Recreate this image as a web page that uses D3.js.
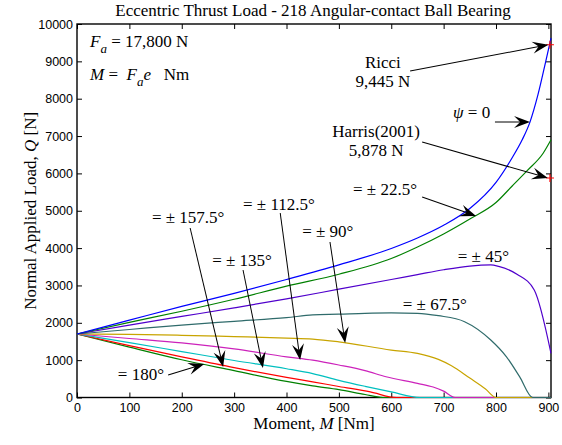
<!DOCTYPE html>
<html>
<head>
<meta charset="utf-8">
<script src="https://cdn.jsdelivr.net/npm/d3@7"></script>
<style>
  body { margin: 0; background: #fff; }
  text { font-family: "Liberation Serif", "Times New Roman", serif; }
  .tick text { font-family: "Liberation Sans", Arial, sans-serif; font-size: 12.5px; fill: #000; }
</style>
</head>
<body>
<svg id="chart" width="562" height="445"></svg>
<script>
// tick values
const xTicks = d3.range(0, 901, 100)
const yTicks = d3.range(0, 10001, 1000)

// Q [N] vs M [Nm], one list per contact angle psi
const psi0   = [[0,1700],[100,2070],[200,2440],[300,2790],[400,3160],[500,3550],[600,3990],[650,4270],[700,4610],[750,5060],[800,5760],[830,6400],[850,6900],[865,7380],[880,8100],[895,9000],[905,9620]]
const psi22  = [[0,1700],[100,2010],[200,2310],[300,2630],[400,2980],[500,3300],[600,3720],[650,4030],[700,4380],[750,4780],[800,5220],[830,5650],[860,6080],[890,6540],[905,6900]]
const psi45  = [[0,1700],[100,1940],[200,2170],[300,2400],[400,2640],[500,2900],[600,3160],[650,3290],[700,3420],[750,3520],[790,3550],[805,3510],[840,3300],[873,2880],[905,1180]]
const psi67  = [[0,1700],[100,1820],[200,1940],[300,2040],[400,2140],[450,2210],[500,2230],[550,2255],[600,2265],[650,2255],[690,2190],[740,2030],[790,1540],[820,1090],[845,560],[870,0],[905,0]]
const psi90  = [[0,1700],[100,1690],[200,1665],[300,1630],[400,1590],[450,1565],[500,1490],[600,1270],[650,1180],[690,1020],[715,850],[750,520],[780,230],[800,0],[905,0]]
const psi112 = [[0,1700],[100,1580],[200,1460],[300,1300],[400,1090],[450,1000],[500,870],[550,720],[590,555],[650,380],[680,280],[700,170],[722,0],[905,0]]
const psi135 = [[0,1700],[100,1470],[200,1230],[300,990],[400,770],[450,640],[500,460],[550,300],[600,150],[655,0],[905,0]]
const psi157 = [[0,1700],[100,1390],[200,1090],[300,800],[400,540],[450,420],[500,295],[560,150],[610,0],[905,0]]
const psi180 = [[0,1700],[100,1350],[200,1010],[300,720],[400,430],[450,310],[500,210],[550,80],[584,0],[905,0]]

// reference values marked with red +
const markers = [[903, 9445], [903, 5878]]

// drawn from 180 up to 0 so upper curves sit on top
const series = [
    { data: psi180, color: '#008000' },
    { data: psi157, color: '#ff0000' },
    { data: psi135, color: '#00bfbf' },
    { data: psi112, color: '#cc22bb' },
    { data: psi90,  color: '#c8a400' },
    { data: psi67,  color: '#2f6b6b' },
    { data: psi45,  color: '#5000cc' },
    { data: psi22,  color: '#008000' },
    { data: psi0,   color: '#0000ff' },
]

var margin = { left: 77, right: 11, top: 24, bottom: 47.5 }
var width = 562, height = 445

var svg = d3.select('#chart')
svg.append('rect').attr('width', width).attr('height', height).attr('fill', '#fff')

var x = d3.scaleLinear().domain([0, 905]).range([margin.left, width - margin.right])
var y = d3.scaleLinear().domain([0, 10000]).range([height - margin.bottom, margin.top])

// axes, ticks pointing inwards on all four sides
svg.append('g')
    .attr('transform', 'translate(0,' + y(0) + ')')
    .call(d3.axisBottom(x).tickValues(xTicks).tickSize(-5).tickPadding(6).tickFormat(d3.format('d')))
svg.append('g')
    .attr('transform', 'translate(' + x(0) + ',0)')
    .call(d3.axisLeft(y).tickValues(yTicks).tickSize(-5).tickPadding(4).tickFormat(d3.format('d')))
svg.append('g')
    .attr('transform', 'translate(0,' + y(10000) + ')')
    .call(d3.axisTop(x).tickValues(xTicks).tickSize(-5).tickFormat(''))
svg.append('g')
    .attr('transform', 'translate(' + x(905) + ',0)')
    .call(d3.axisRight(y).tickValues(yTicks).tickSize(-5).tickFormat(''))
svg.selectAll('.domain').remove()
svg.selectAll('.tick line').attr('stroke', '#000')

svg.append('rect')
    .attr('x', x(0)).attr('y', y(10000))
    .attr('width', x(905) - x(0)).attr('height', y(0) - y(10000))
    .attr('fill', 'none').attr('stroke', '#000').attr('stroke-width', 1.4)

var line = d3.line().x(d => x(d[0])).y(d => y(d[1])).curve(d3.curveMonotoneX)

svg.selectAll('path.curve')
    .data(series)
    .enter()
    .append('path')
    .attr('class', 'curve')
    .attr('d', d => line(d.data))
    .attr('fill', 'none')
    .attr('stroke', d => d.color)
    .attr('stroke-width', 1.2)

svg.selectAll('path.mark')
    .data(markers)
    .enter()
    .append('path')
    .attr('class', 'mark')
    .attr('d', d => 'M' + (x(d[0]) - 4) + ',' + y(d[1]) + 'h8M' + x(d[0]) + ',' + (y(d[1]) - 4) + 'v8')
    .attr('stroke', '#ff0000')
    .attr('stroke-width', 1.1)

// title and axis labels
svg.append('text')
    .attr('x', 313).attr('y', 15.5)
    .attr('text-anchor', 'middle')
    .style('font-size', '17px')
    .text('Eccentric Thrust Load - 218 Angular-contact Ball Bearing')

var xl = svg.append('text')
    .attr('x', 314).attr('y', 429)
    .attr('text-anchor', 'middle')
    .style('font-size', '17px')
xl.append('tspan').text('Moment,  ')
xl.append('tspan').style('font-style', 'italic').text('M')
xl.append('tspan').text('  [Nm]')

var yl = svg.append('text')
    .attr('transform', 'translate(36,' + (y(5000)) + ') rotate(-90)')
    .attr('text-anchor', 'middle')
    .style('font-size', '17px')
yl.append('tspan').text('Normal Applied Load,  ')
yl.append('tspan').style('font-style', 'italic').text('Q')
yl.append('tspan').text('  [N]')

// F_a and M formulas
var f1 = svg.append('text').attr('x', 90).attr('y', 46.5).style('font-size', '17px')
f1.append('tspan').style('font-style', 'italic').text('F')
f1.append('tspan').style('font-style', 'italic').style('font-size', '13px').attr('dy', 6).text('a')
f1.append('tspan').attr('dy', -6).text(' = 17,800 N')

var f2 = svg.append('text').attr('x', 90).attr('y', 80).style('font-size', '17px').style('white-space', 'pre')
f2.append('tspan').style('font-style', 'italic').text('M')
f2.append('tspan').text(' =  ')
f2.append('tspan').style('font-style', 'italic').text('F')
f2.append('tspan').style('font-style', 'italic').style('font-size', '13px').attr('dy', 6).text('a')
f2.append('tspan').style('font-style', 'italic').attr('dy', -6).text('e')
f2.append('tspan').text('   Nm')

// curve labels, positions in data units
const labels = [
    { lines: ['Ricci', '9,445 N'], at: [584, 8822], anchor: 'middle' },
    { lines: ['Harris(2001)', '5,878 N'], at: [571, 6974], anchor: 'middle' },
    { lines: ['= \u00b1 22.5\u00b0'], at: [527, 5422], anchor: 'start' },
    { lines: ['= \u00b1 45\u00b0'], at: [727, 3628], anchor: 'start' },
    { lines: ['= \u00b1 67.5\u00b0'], at: [622, 2343], anchor: 'start' },
    { lines: ['= \u00b1 90\u00b0'], at: [430, 4297], anchor: 'start' },
    { lines: ['= \u00b1 112.5\u00b0'], at: [317, 5020], anchor: 'start' },
    { lines: ['= \u00b1 135\u00b0'], at: [258, 3521], anchor: 'start' },
    { lines: ['= \u00b1 157.5\u00b0'], at: [143, 4672], anchor: 'start' },
    { lines: ['= 180\u00b0'], at: [78, 469], anchor: 'start' },
]

// arrows: [from, tip] in data units
const arrows = [
    [[636, 8742], [900, 9445]],
    [[798, 7376], [865, 7376]],
    [[659, 6841], [899, 5878]],
    [[659, 5369], [762, 4860]],
    [[483, 4163], [512, 1459]],
    [[388, 4940], [426, 1004]],
    [[317, 3414], [355, 790]],
    [[216, 4538], [279, 817]],
    [[174, 602], [243, 897]],
]

labels.forEach(l => {
    var t = svg.append('text')
        .attr('x', x(l.at[0])).attr('y', y(l.at[1]))
        .attr('text-anchor', l.anchor)
        .style('font-size', '17px')
    l.lines.forEach((s, i) => {
        t.append('tspan').attr('x', x(l.at[0])).attr('dy', i ? 19 : 0).text(s)
    })
})

var p = svg.append('text').attr('x', x(718)).attr('y', y(7483)).style('font-size', '17px')
p.append('tspan').style('font-style', 'italic').text('\u03c8')
p.append('tspan').text(' = 0')

var headL = 16, headW = 12
arrows.forEach(a => {
    var x1 = x(a[0][0]), y1 = y(a[0][1]), x2 = x(a[1][0]), y2 = y(a[1][1])
    var ang = Math.atan2(y2 - y1, x2 - x1) * 180 / Math.PI
    var len = Math.hypot(x2 - x1, y2 - y1)
    var g = svg.append('g').attr('transform', 'translate(' + x1 + ',' + y1 + ') rotate(' + ang + ')')
    g.append('line')
        .attr('x1', 0).attr('y1', 0).attr('x2', len - headL * 0.6).attr('y2', 0)
        .attr('stroke', '#000').attr('stroke-width', 1)
    g.append('path')
        .attr('d', 'M' + len + ',0L' + (len - headL) + ',' + (headW / 2) + 'L' + (len - headL * 0.62) + ',0L' + (len - headL) + ',' + (-headW / 2) + 'Z')
        .attr('fill', '#000')
})
</script>
</body>
</html>
